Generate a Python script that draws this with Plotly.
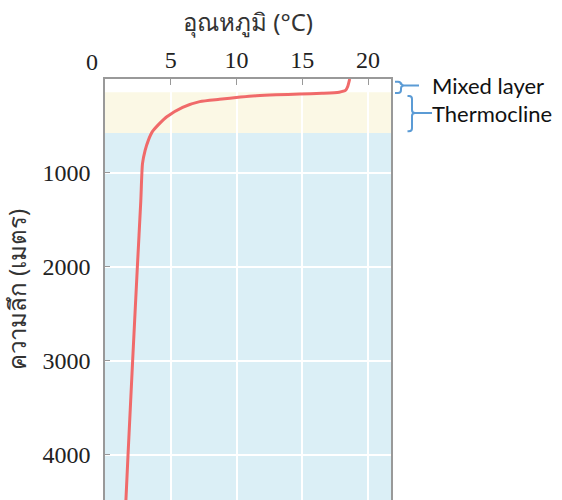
import plotly.graph_objects as go

# ---- data ----
depths = [0, 80, 118, 140, 152, 160, 168, 178, 192, 216, 241, 301, 401, 480, 560, 650, 760, 900, 1300, 2000, 3000, 4000, 4600]
temps = [18.6, 18.45, 18.3, 17.8, 16.5, 14.8, 13.0, 11.5, 10.3, 8.7, 7.2, 5.9, 4.7, 4.1, 3.6, 3.3, 3.05, 2.85, 2.72, 2.46, 2.1, 1.75, 1.55]

x_tickvals = [5, 10, 15, 20]
y_tickvals = [1000, 2000, 3000, 4000]

mixed_bottom = 140      # depth (m) where mixed layer ends
thermo_bottom = 575     # depth (m) where thermocline ends
layer_names = ["Mixed layer", "Thermocline"]

x_title = "อุณหภูมิ (°C)"
y_title = "ความลึก (เมตร)"

# ---- layout geometry ----
W, H = 562, 500
ML, MR, MT, MB = 105, 171, 79, 0
x_range = [0, 21.74]
y_range = [4479, 0]

plot_h = H - MT - MB
plot_w = W - ML - MR


def px_x(p):  # pixel x -> paper x
    return (p - ML) / plot_w


def dep_y(d):  # depth -> paper y
    return 1 - d / y_range[0]


def brace(xl, xs, xt, d0, d1, dm):
    a, b, m = dep_y(d0), dep_y(d1), dep_y(dm)
    xl, xs, xt = px_x(xl), px_x(xs), px_x(xt)
    r = 3 / plot_h
    rx = 3 / plot_w
    return (f"M {xl},{a} L {xs-rx},{a} Q {xs},{a} {xs},{a-r} "
            f"L {xs},{m+r} Q {xs},{m} {xs+rx},{m} L {xt},{m} "
            f"M {xs+rx},{m} Q {xs},{m} {xs},{m-r} "
            f"L {xs},{b+r} Q {xs},{b} {xs-rx},{b} L {xl},{b}")


fig = go.Figure()
fig.add_trace(go.Scatter(
    x=temps, y=depths, mode="lines",
    line=dict(color="#f06a6a", width=3, shape="spline", smoothing=0.6),
    hoverinfo="skip", showlegend=False,
))

shapes = [
    dict(type="rect", xref="x", yref="y", x0=x_range[0], x1=x_range[1],
         y0=mixed_bottom, y1=thermo_bottom, fillcolor="#fbf8e5",
         line=dict(width=0), layer="below"),
    dict(type="rect", xref="x", yref="y", x0=x_range[0], x1=x_range[1],
         y0=thermo_bottom, y1=y_range[0], fillcolor="#dbeff6",
         line=dict(width=0), layer="below"),
    dict(type="path", xref="paper", yref="paper",
         path=brace(395, 401, 419, 30, 148, 70),
         line=dict(color="#5b9bd5", width=2)),
    dict(type="path", xref="paper", yref="paper",
         path=brace(407.5, 412, 432, 180, 557, 362),
         line=dict(color="#5b9bd5", width=2)),
]

ann_font = dict(family="Lato, sans-serif", size=22, color="#111")
annotations = [
    dict(xref="paper", yref="paper", x=px_x(430), y=dep_y(70), text=layer_names[0],
         showarrow=False, xanchor="left", yanchor="middle", font=ann_font),
    dict(xref="paper", yref="paper", x=px_x(430), y=dep_y(362), text=layer_names[1],
         showarrow=False, xanchor="left", yanchor="middle", font=ann_font),
    dict(xref="x", yref="paper", x=0, y=1, yshift=17, xshift=-13, text="0",
         showarrow=False, xanchor="center", yanchor="middle",
         font=dict(family="Liberation Serif, serif", size=24, color="#222")),
]

fig.update_layout(
    width=W, height=H,
    margin=dict(l=ML, r=MR, t=MT, b=MB, pad=0, autoexpand=False),
    paper_bgcolor="white", plot_bgcolor="white",
    shapes=shapes, annotations=annotations,
    xaxis=dict(
        side="top", range=x_range, tickvals=x_tickvals, automargin=False,
        ticks="inside", ticklen=6, tickcolor="#999", tickwidth=1,
        showline=True, linecolor="#999", linewidth=1.5, mirror=False,
        showgrid=True, gridcolor="white", gridwidth=1.5, zeroline=False,
        tickfont=dict(family="Liberation Serif, serif", size=24, color="#222"),
        title=dict(text=x_title, standoff=8,
                   font=dict(family="Noto Sans, sans-serif", size=24, color="#333")),
    ),
    yaxis=dict(
        range=y_range, tickvals=y_tickvals, automargin=False,
        ticks="inside", ticklen=5, tickcolor="#999", tickwidth=1,
        showline=True, linecolor="#999", linewidth=1.5, mirror=True,
        showgrid=True, gridcolor="white", gridwidth=1.5, zeroline=False,
        ticklabelstandoff=8,
        tickfont=dict(family="Liberation Serif, serif", size=24, color="#222"),
        title=dict(text=y_title, standoff=10,
                   font=dict(family="Noto Sans, sans-serif", size=24, color="#333")),
    ),
)

fig.write_html(
    "out.html",
    config={"displayModeBar": False},
    post_script="document.body.style.margin='0';document.body.style.overflow='hidden';",
)
